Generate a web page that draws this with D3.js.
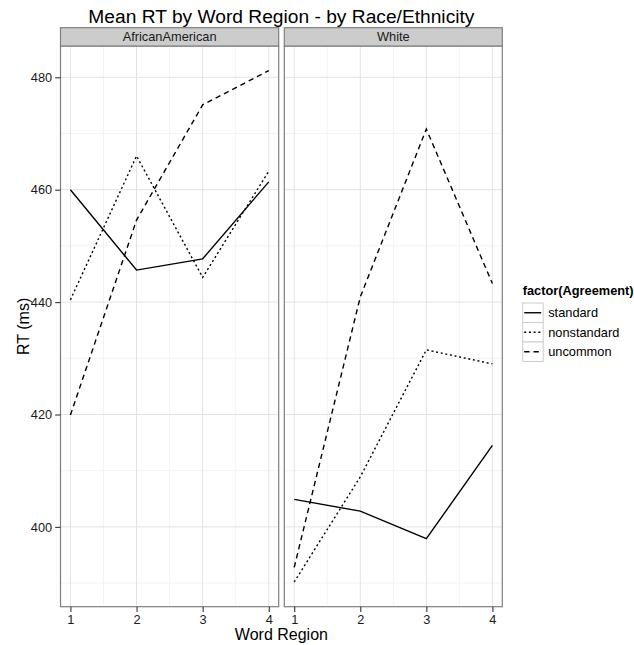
<!DOCTYPE html>
<html>
<head>
<meta charset="utf-8">
<script src="https://cdn.jsdelivr.net/npm/d3@7"></script>
<style>
    body { margin: 0; background: #fff; }
    text { font-family: "Liberation Sans", Arial, Helvetica, sans-serif; }
</style>
</head>
<body>
<div id="chart"></div>
<script>
// data
var regions = [1, 2, 3, 4];
var races = ["AfricanAmerican", "White"];
var agreements = ["standard", "nonstandard", "uncommon"];

var aaStandard = [460.0, 445.7, 447.7, 461.4];
var aaNonstandard = [440.4, 466.0, 444.4, 463.3];
var aaUncommon = [419.9, 454.6, 475.1, 481.2];

var whStandard = [404.9, 402.8, 397.9, 414.5];
var whNonstandard = [390.2, 408.9, 431.5, 429.0];
var whUncommon = [392.8, 440.9, 470.8, 443.3];

var yTicks = [400, 420, 440, 460, 480];
var yMinor = [390, 410, 430, 450, 470];
var xMinor = [1.5, 2.5, 3.5];

const DASHES = { standard: null, nonstandard: "2,2.7", uncommon: "5.3,4" };
const MAJOR_GRID = "#e3e3e3";
const MINOR_GRID = "#f3f3f3";
const BORDER = "#7f7f7f";
const TEXT_COLOR = "#1a1a1a";

var width = 634, height = 645;
var plotTop = 46, plotBottom = 606.7, stripTop = 27.7;
var panels = [
    { race: races[0], left: 60.5, right: 278.7, series: [aaStandard, aaNonstandard, aaUncommon] },
    { race: races[1], left: 284.3, right: 502.3, series: [whStandard, whNonstandard, whUncommon] }
];

var svg = d3.select("#chart").append("svg")
    .attr("width", width)
    .attr("height", height);

var y = d3.scaleLinear().domain([385.8, 485.57]).range([plotBottom, plotTop]);

panels.forEach(function (p, i) {
    var x = d3.scaleLinear().domain([0.85, 4.15]).range([p.left, p.right]);
    var g = svg.append("g");

    g.append("rect")
        .attr("x", p.left).attr("y", plotTop)
        .attr("width", p.right - p.left).attr("height", plotBottom - plotTop)
        .attr("fill", "#fff");

    // grid
    g.selectAll(".yminor").data(yMinor).enter().append("line")
        .attr("x1", p.left).attr("x2", p.right)
        .attr("y1", function (d) { return y(d); }).attr("y2", function (d) { return y(d); })
        .attr("stroke", MINOR_GRID).attr("stroke-width", 1);
    g.selectAll(".xminor").data(xMinor).enter().append("line")
        .attr("y1", plotTop).attr("y2", plotBottom)
        .attr("x1", function (d) { return x(d); }).attr("x2", function (d) { return x(d); })
        .attr("stroke", MINOR_GRID).attr("stroke-width", 1);
    g.selectAll(".ymajor").data(yTicks).enter().append("line")
        .attr("x1", p.left).attr("x2", p.right)
        .attr("y1", function (d) { return y(d); }).attr("y2", function (d) { return y(d); })
        .attr("stroke", MAJOR_GRID).attr("stroke-width", 1);
    g.selectAll(".xmajor").data(regions).enter().append("line")
        .attr("y1", plotTop).attr("y2", plotBottom)
        .attr("x1", function (d) { return x(d); }).attr("x2", function (d) { return x(d); })
        .attr("stroke", MAJOR_GRID).attr("stroke-width", 1);

    // lines
    var line = d3.line()
        .x(function (d, j) { return x(regions[j]); })
        .y(function (d) { return y(d); });

    p.series.forEach(function (s, k) {
        g.append("path")
            .attr("d", line(s))
            .attr("fill", "none")
            .attr("stroke", "#000")
            .attr("stroke-width", 1.4)
            .attr("stroke-dasharray", DASHES[agreements[k]]);
    });

    // border
    g.append("rect")
        .attr("x", p.left).attr("y", plotTop)
        .attr("width", p.right - p.left).attr("height", plotBottom - plotTop)
        .attr("fill", "none").attr("stroke", BORDER).attr("stroke-width", 1.2);

    // strip
    g.append("rect")
        .attr("x", p.left).attr("y", stripTop)
        .attr("width", p.right - p.left).attr("height", plotTop - stripTop)
        .attr("fill", "#cccccc").attr("stroke", BORDER).attr("stroke-width", 1.2);
    g.append("text")
        .attr("x", (p.left + p.right) / 2).attr("y", (stripTop + plotTop) / 2 + 4.5)
        .attr("text-anchor", "middle")
        .style("font-size", "12.8px")
        .attr("fill", TEXT_COLOR)
        .text(p.race);

    // x axis
    var xAxis = g.append("g")
        .attr("transform", "translate(0," + plotBottom + ")")
        .call(d3.axisBottom(x).tickValues(regions).tickFormat(d3.format("d")).tickSize(5.3).tickPadding(2.5));
    xAxis.select(".domain").remove();
    xAxis.selectAll("line").attr("stroke", "#333").attr("stroke-width", 1.1);
    xAxis.selectAll("text").style("font-size", "12.8px").attr("fill", TEXT_COLOR);

    if (i === 0) {
        var yAxis = g.append("g")
            .attr("transform", "translate(" + p.left + ",0)")
            .call(d3.axisLeft(y).tickValues(yTicks).tickSize(5.3).tickPadding(3));
        yAxis.select(".domain").remove();
        yAxis.selectAll("line").attr("stroke", "#333").attr("stroke-width", 1.1);
        yAxis.selectAll("text").style("font-size", "12.8px").attr("fill", TEXT_COLOR);
    }
});

// axis groups set their own font-family; let the css one apply
svg.selectAll("g").attr("font-family", null);

// titles
svg.append("text")
    .attr("x", (panels[0].left + panels[1].right) / 2).attr("y", 23)
    .attr("text-anchor", "middle")
    .style("font-size", "19.2px")
    .text("Mean RT by Word Region - by Race/Ethnicity");

svg.append("text")
    .attr("x", (panels[0].left + panels[1].right) / 2).attr("y", 640)
    .attr("text-anchor", "middle")
    .style("font-size", "16px")
    .text("Word Region");

svg.append("text")
    .attr("transform", "translate(28.5," + ((plotTop + plotBottom) / 2) + ") rotate(-90)")
    .attr("text-anchor", "middle")
    .style("font-size", "16px")
    .text("RT (ms)");

// legend
var lgX = 522.7, lgY = 303, keyH = 19.5, keyW = 20.5;
var legend = svg.append("g");
legend.append("text")
    .attr("x", lgX).attr("y", 294.5)
    .style("font-size", "12.8px").style("font-weight", "bold")
    .text("factor(Agreement)");

var keys = legend.selectAll(".key").data(agreements).enter().append("g")
    .attr("transform", function (d, j) { return "translate(" + lgX + "," + (lgY + j * keyH) + ")"; });
keys.append("rect")
    .attr("width", keyW).attr("height", keyH)
    .attr("fill", "#fff").attr("stroke", "#cccccc").attr("stroke-width", 1);
keys.append("line")
    .attr("x1", 1.5).attr("x2", keyW - 2).attr("y1", keyH / 2).attr("y2", keyH / 2)
    .attr("stroke", "#000").attr("stroke-width", 1.4)
    .attr("stroke-dasharray", function (d) { return DASHES[d]; });
keys.append("text")
    .attr("x", keyW + 5).attr("y", keyH / 2 + 4.5)
    .style("font-size", "12.8px")
    .text(function (d) { return d; });
</script>
</body>
</html>
